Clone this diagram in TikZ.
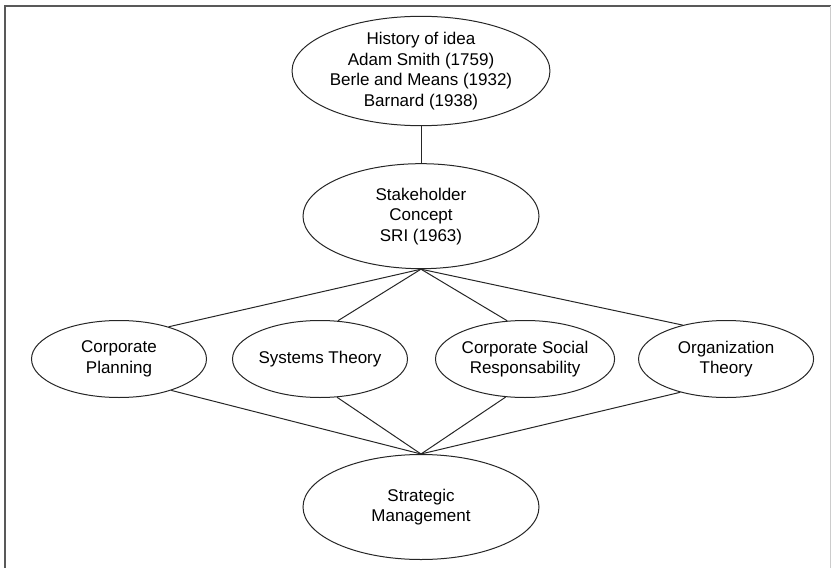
\documentclass[tikz,border=0pt]{standalone}
\usepackage{fontspec}
\setmainfont{Liberation Sans}
\usetikzlibrary{positioning, shapes.geometric}

\begin{document}
\begin{tikzpicture}[
  x=1pt, y=-1pt,
  every node/.style={font=\fontsize{17}{20.5}\selectfont}
]
\tikzset{
  bubble/.style ={ellipse, draw=black!85, line width=1pt,
                  align=center, inner sep=0pt},
  big/.style    ={bubble, minimum width=236pt, minimum height=105pt},
  small/.style  ={bubble, minimum width=175pt, minimum height=77pt},
  link/.style   ={draw=black!85, line width=1pt},
  frame/.style  ={draw=black!65, line width=1.6pt}
}
\useasboundingbox (0,0) rectangle (831,568);

%% ----- Frame (cut on the right and bottom) -----
\draw[frame] (5,575) -- (5,6) -- (831,6);
\draw[draw=black!20, line width=0.6pt] (830,6) -- (830,575);

%% ----- Top: history, stakeholder concept -----
\node[big] (hist) at (421,71)
  {History of idea\\Adam Smith (1759)\\Berle and Means (1932)\\Barnard (1938)};
\node[big, below=37pt of hist] (stake)
  {Stakeholder\\Concept\\SRI (1963)};
\draw[link] (hist.south) -- (stake.north);

%% ----- Middle row -----
\node[small] (sys) at (320,359) {Systems Theory};
\node[small, left=25pt of sys]  (corp) {Corporate\\Planning};
\node[small, right=27pt of sys] (csr)  {Corporate Social\\Responsability};
\node[small, right=23pt of csr] (org)  {Organization\\Theory};

%% ----- Bottom -----
\node[big] (strat) at (421,507) {Strategic\\Management};

%% ----- Links -----
\draw[link] (stake.south) -- (corp.33);
\draw[link] (stake.south) -- (sys.65);
\draw[link] (stake.south) -- (csr.115);
\draw[link] (stake.south) -- (org.142);

\draw[link] (corp.-31)  -- (strat.north);
\draw[link] (sys.-66)   -- (strat.north);
\draw[link] (csr.-117)  -- (strat.north);
\draw[link] (org.-144)  -- (strat.north);

\end{tikzpicture}
\end{document}
